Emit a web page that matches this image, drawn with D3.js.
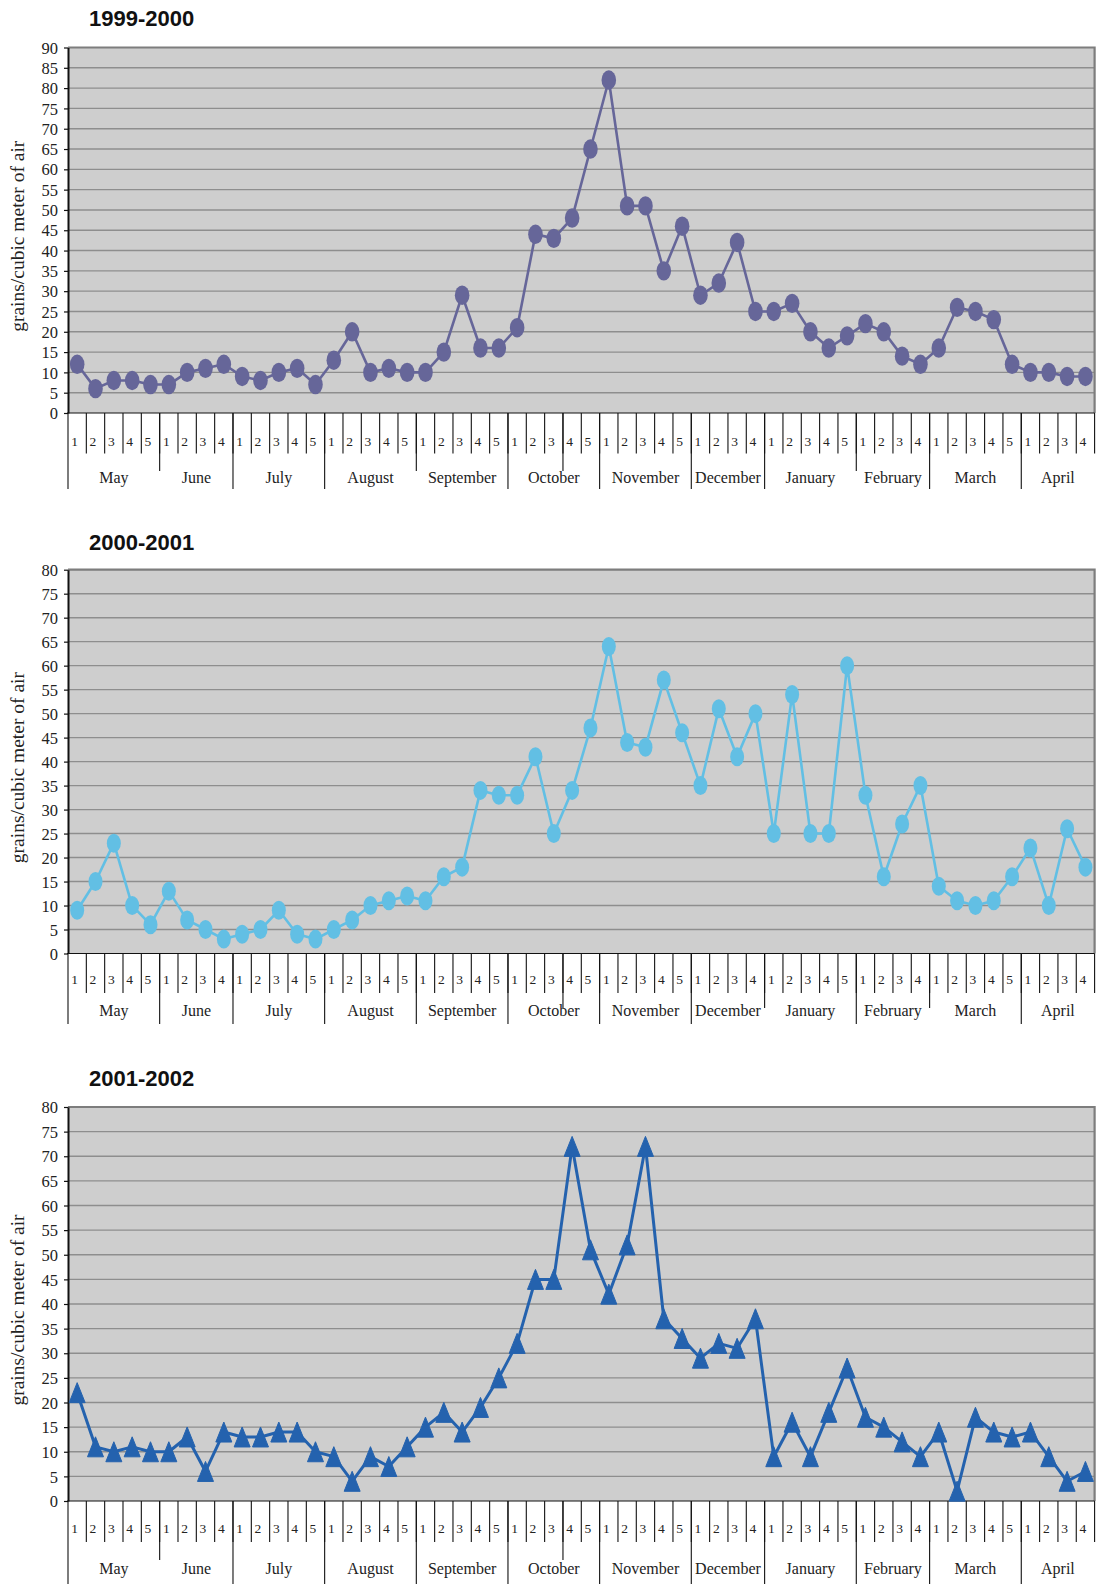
<!DOCTYPE html>
<html>
<head>
<meta charset="UTF-8">
<title>Pollen counts 1999-2002</title>
<script src="https://d3js.org/d3.v7.min.js"></script>
<style>
  body { margin: 0; background: #fff; }
  svg { display: block; }
  .title { font: bold 22px "Liberation Sans", Arial, sans-serif; fill: #111; }
  .axis text, .week, .month, .ytitle {
    font-family: "Liberation Serif", "Times New Roman", serif;
    fill: #222;
  }
  .axis text { font-size: 16.5px; }
  .week { font-size: 13.5px; }
  .month { font-size: 16px; }
  .ytitle { font-size: 19.5px; }
  .grid line { stroke: #8e8e8e; stroke-width: 1.4px; }
  .cat line { stroke: #111; stroke-width: 1.1px; }
</style>
</head>
<body>
<div id="chart"></div>
<script>
// month groups on the category axis
const months = ["May", "June", "July", "August", "September", "October",
                "November", "December", "January", "February", "March", "April"];
const weeksPerMonth = [5, 4, 5, 5, 5, 5, 5, 4, 5, 4, 5, 4];

// grains / cubic meter of air, one value per week
const season1999 = [12, 6, 8, 8, 7,   7, 10, 11, 12,   9, 8, 10, 11, 7,
                    13, 20, 10, 11, 10,   10, 15, 29, 16, 16,   21, 44, 43, 48, 65,
                    82, 51, 51, 35, 46,   29, 32, 42, 25,   25, 27, 20, 16, 19,
                    22, 20, 14, 12,   16, 26, 25, 23, 12,   10, 10, 9, 9];
const season2000 = [9, 15, 23, 10, 6,   13, 7, 5, 3,   4, 5, 9, 4, 3,
                    5, 7, 10, 11, 12,   11, 16, 18, 34, 33,   33, 41, 25, 34, 47,
                    64, 44, 43, 57, 46,   35, 51, 41, 50,   25, 54, 25, 25, 60,
                    33, 16, 27, 35,   14, 11, 10, 11, 16,   22, 10, 26, 18];
const season2001 = [22, 11, 10, 11, 10,   10, 13, 6, 14,   13, 13, 14, 14, 10,
                    9, 4, 9, 7, 11,   15, 18, 14, 19, 25,   32, 45, 45, 72, 51,
                    42, 52, 72, 37, 33,   29, 32, 31, 37,   9, 16, 9, 18, 27,
                    17, 15, 12, 9,   14, 2, 17, 14, 13,   14, 9, 4, 6];

const yTitle = "grains/cubic meter of air";

// build the week categories
const cats = [];
months.forEach((m, mi) => {
  for (let w = 1; w <= weeksPerMonth[mi]; w++) cats.push({ month: m, week: w, key: m + w });
});
// indices where a new month starts
const monthStarts = [];
{
  let acc = 0;
  weeksPerMonth.forEach(n => { monthStarts.push(acc); acc += n; });
}

const panels = [
  { title: "1999-2000", values: season1999, yMax: 90, color: "#666699", marker: "ellipse",
    titleY: 26, top: 47.5, bottom: 413, weekY: 446, tickEnd: 453.5, monthY: 483,
    sepEnd: 489, shortEnd: 471, shortSeps: [5, 19, 27, 43], lw: 2.6, mr: [7.3, 9.7] },
  { title: "2000-2001", values: season2000, yMax: 80, color: "#62bfe4", marker: "ellipse",
    titleY: 550, top: 569.7, bottom: 953.5, weekY: 983.5, tickEnd: 993, monthY: 1016,
    sepEnd: 1024, shortEnd: 1008, shortSeps: [27, 38, 47], lw: 2.6, mr: [7, 9.5] },
  { title: "2001-2002", values: season2001, yMax: 80, color: "#2462ae", marker: "triangle",
    titleY: 1086, top: 1107, bottom: 1501, weekY: 1532.5, tickEnd: 1542, monthY: 1574,
    sepEnd: 1584, shortEnd: 1560, shortSeps: [5, 27], lw: 3, mr: [8, 10] }
];

const W = 1101, H = 1584;
const left = 68, right = 1094.6;

const svg = d3.select("#chart").append("svg")
    .attr("width", W)
    .attr("height", H);

const x = d3.scaleBand()
    .domain(cats.map(d => d.key))
    .range([left, right])
    .padding(0);
const bw = x.bandwidth();
const edge = k => left + k * bw;

panels.forEach(p => {
  const g = svg.append("g");
  const y = d3.scaleLinear().domain([0, p.yMax]).range([p.bottom, p.top]);
  const ticks = d3.range(0, p.yMax + 1, 5);

  g.append("text")
      .attr("class", "title")
      .attr("x", 89)
      .attr("y", p.titleY)
      .text(p.title);

  // plot background
  g.append("rect")
      .attr("x", left)
      .attr("y", p.top)
      .attr("width", right - left)
      .attr("height", p.bottom - p.top)
      .attr("fill", "#cecece");

  // horizontal gridlines
  g.append("g")
      .attr("class", "grid")
    .selectAll("line")
    .data(ticks.filter(t => t > 0 && t < p.yMax))
    .join("line")
      .attr("x1", left)
      .attr("x2", right)
      .attr("y1", d => y(d))
      .attr("y2", d => y(d));

  // top and right border
  g.append("path")
      .attr("d", `M${left},${p.top}H${right}V${p.bottom}`)
      .attr("fill", "none")
      .attr("stroke", "#7d7d7d")
      .attr("stroke-width", 2.2);

  // y axis
  const yAxis = g.append("g")
      .attr("class", "axis")
      .attr("transform", `translate(${left},0)`)
      .call(d3.axisLeft(y).tickValues(ticks).tickSize(4).tickPadding(6).tickSizeOuter(0));
  yAxis.select(".domain").attr("stroke", "#111").attr("stroke-width", 2);
  yAxis.selectAll(".tick line").attr("stroke", "#111").attr("stroke-width", 1.2);
  yAxis.selectAll(".tick text").attr("fill", "#222").attr("dy", "0.34em");

  g.append("text")
      .attr("class", "ytitle")
      .attr("transform", `translate(24,${(p.top + p.bottom) / 2 + 6}) rotate(-90)`)
      .attr("text-anchor", "middle")
      .text(yTitle);

  // category axis: week row
  const cat = g.append("g").attr("class", "cat");
  cat.append("line")
      .attr("x1", left - 1).attr("x2", right)
      .attr("y1", p.bottom).attr("y2", p.bottom)
      .attr("stroke-width", 2);
  cat.selectAll("line.wk")
    .data(d3.range(1, cats.length + 1))
    .join("line")
      .attr("class", "wk")
      .attr("x1", k => edge(k)).attr("x2", k => edge(k))
      .attr("y1", p.bottom).attr("y2", p.tickEnd);
  cat.selectAll("text.week")
    .data(cats)
    .join("text")
      .attr("class", "week")
      .attr("x", d => x(d.key) + bw / 2 - 2.5)
      .attr("y", p.weekY)
      .attr("text-anchor", "middle")
      .text(d => d.week);

  // month row
  const seps = [0].concat(monthStarts.slice(1), [27]);
  cat.selectAll("line.sep")
    .data(seps)
    .join("line")
      .attr("class", "sep")
      .attr("x1", k => edge(k)).attr("x2", k => edge(k))
      .attr("y1", p.bottom)
      .attr("y2", k => p.shortSeps.includes(k) ? p.shortEnd : p.sepEnd);
  cat.selectAll("text.month")
    .data(months)
    .join("text")
      .attr("class", "month")
      .attr("x", (m, i) => edge(monthStarts[i]) + weeksPerMonth[i] * bw / 2)
      .attr("y", p.monthY)
      .attr("text-anchor", "middle")
      .text(m => m);

  // series
  const pts = p.values.map((v, i) => ({ key: cats[i].key, v }));
  const line = d3.line()
      .x(d => x(d.key) + bw / 2)
      .y(d => y(d.v));
  g.append("path")
      .datum(pts)
      .attr("d", line)
      .attr("fill", "none")
      .attr("stroke", p.color)
      .attr("stroke-width", p.lw)
      .attr("stroke-linejoin", "round");

  const [rx, ry] = p.mr;
  if (p.marker === "ellipse") {
    g.selectAll("ellipse.pt")
      .data(pts)
      .join("ellipse")
        .attr("class", "pt")
        .attr("cx", d => x(d.key) + bw / 2)
        .attr("cy", d => y(d.v))
        .attr("rx", rx)
        .attr("ry", ry)
        .attr("fill", p.color);
  } else {
    g.selectAll("path.pt")
      .data(pts)
      .join("path")
        .attr("class", "pt")
        .attr("transform", d => `translate(${x(d.key) + bw / 2},${y(d.v)})`)
        .attr("d", `M0,${-ry}L${rx},${ry}L${-rx},${ry}Z`)
        .attr("fill", p.color)
        .attr("stroke", p.color)
        .attr("stroke-width", 1)
        .attr("stroke-linejoin", "round");
  }
});
</script>
</body>
</html>
